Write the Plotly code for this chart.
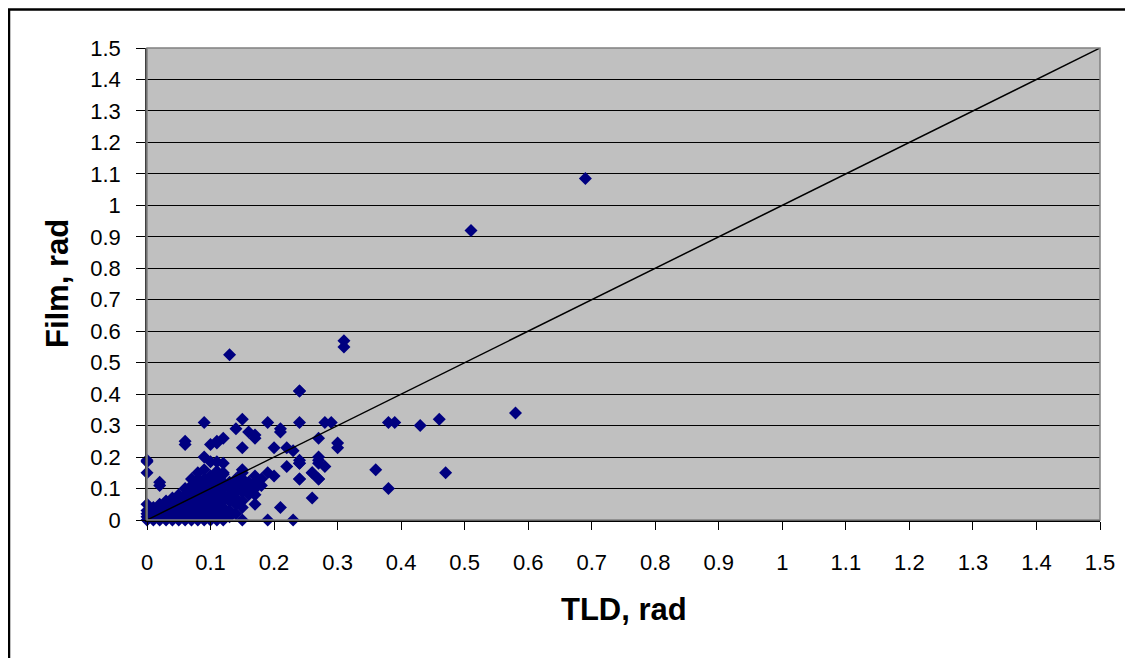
import plotly.graph_objects as go

# TLD vs film dose, rad
tld_rad = [
    0.69, 0.51, 0.58, 0.46, 0.43, 0.38, 0.39, 0.36, 0.47, 0.38,
    0.31, 0.31, 0.24, 0.28, 0.29, 0.27, 0.30, 0.30, 0.27, 0.28,
    0.26, 0.27, 0.26, 0.24, 0.24, 0.24, 0.24,
    0.13, 0.24, 0.09, 0.14, 0.15, 0.19, 0.21, 0.17, 0.11, 0.12, 0.06,
    0.17, 0.15, 0.20, 0.22, 0.23, 0.21, 0.16, 0.24, 0.22, 0.27, 0.27,
    0.19, 0.20, 0.24, 0.27, 0.26, 0.15, 0.15, 0.17, 0.15, 0.16, 0.17,
    0.14, 0.15, 0.19, 0.23, 0.15, 0.21,
    0.06, 0.11, 0.10, 0.00, 0.00, 0.00, 0.02, 0.02,
    0.09, 0.10, 0.11, 0.12, 0.09, 0.11, 0.12, 0.08, 0.10,
    0.00, 0.00, 0.00, 0.00, 0.00,
    0.01, 0.01, 0.01, 0.01,
    0.02, 0.02, 0.02, 0.02,
    0.03, 0.03, 0.03, 0.03, 0.03,
    0.04, 0.04, 0.04, 0.04, 0.04,
    0.05, 0.05, 0.05, 0.05, 0.05, 0.05,
    0.06, 0.06, 0.06, 0.06, 0.06, 0.06,
    0.07, 0.07, 0.07, 0.07, 0.07, 0.07, 0.07, 0.07,
    0.08, 0.08, 0.08, 0.08, 0.08, 0.08, 0.08, 0.08,
    0.09, 0.09, 0.09, 0.09, 0.09, 0.09, 0.09, 0.09,
    0.10, 0.10, 0.10, 0.10, 0.10, 0.10, 0.10, 0.10,
    0.11, 0.11, 0.11, 0.11, 0.11, 0.11, 0.11, 0.11,
    0.12, 0.12, 0.12, 0.12, 0.12, 0.12, 0.12, 0.12,
    0.13, 0.13, 0.13, 0.13, 0.13, 0.13,
    0.14, 0.14, 0.14, 0.14, 0.14, 0.14,
    0.15, 0.15, 0.15, 0.15,
    0.16, 0.16, 0.16,
    0.17, 0.17, 0.17,
    0.18, 0.18,
]
film_rad = [
    1.085, 0.92, 0.34, 0.32, 0.30, 0.31, 0.31, 0.16, 0.15, 0.10,
    0.57, 0.55, 0.41, 0.31, 0.31, 0.26, 0.245, 0.23, 0.20, 0.17,
    0.15, 0.13, 0.07, 0.31, 0.18, 0.13, 0.19,
    0.525, 0.41, 0.31, 0.29, 0.32, 0.31, 0.29, 0.27, 0.25, 0.26, 0.25,
    0.26, 0.23, 0.23, 0.23, 0.22, 0.28, 0.28, 0.18, 0.17, 0.19, 0.18,
    0.15, 0.14, 0.13, 0.13, 0.15, 0.15, 0.16, 0.14, 0.13, 0.095, 0.08,
    0.065, 0.00, 0.00, 0.00, 0.04, 0.04,
    0.24, 0.245, 0.24, 0.185, 0.15, 0.19, 0.12, 0.11,
    0.20, 0.185, 0.185, 0.18, 0.16, 0.155, 0.145, 0.13, 0.13,
    0.00, 0.01, 0.02, 0.03, 0.05,
    0.00, 0.01, 0.02, 0.04,
    0.00, 0.02, 0.03, 0.05,
    0.00, 0.01, 0.03, 0.04, 0.06,
    0.00, 0.02, 0.04, 0.05, 0.07,
    0.00, 0.01, 0.03, 0.05, 0.06, 0.08,
    0.00, 0.02, 0.04, 0.06, 0.08, 0.10,
    0.00, 0.01, 0.03, 0.05, 0.07, 0.09, 0.11, 0.13,
    0.00, 0.02, 0.04, 0.06, 0.08, 0.10, 0.12, 0.15,
    0.00, 0.01, 0.03, 0.05, 0.07, 0.09, 0.11, 0.13,
    0.00, 0.02, 0.04, 0.06, 0.08, 0.10, 0.12, 0.14,
    0.00, 0.01, 0.03, 0.05, 0.07, 0.09, 0.11, 0.13,
    0.00, 0.02, 0.04, 0.06, 0.08, 0.10, 0.12, 0.15,
    0.01, 0.03, 0.06, 0.08, 0.10, 0.12,
    0.02, 0.05, 0.07, 0.09, 0.11, 0.13,
    0.06, 0.09, 0.11, 0.13,
    0.08, 0.11, 0.12,
    0.05, 0.10, 0.12,
    0.11, 0.13,
]

# line of identity
ident_x = [0, 1.5]
ident_y = [0, 1.5]

tick_vals = [round(i * 0.1, 1) for i in range(16)]
tick_text = ["0", "0.1", "0.2", "0.3", "0.4", "0.5", "0.6", "0.7", "0.8",
             "0.9", "1", "1.1", "1.2", "1.3", "1.4", "1.5"]

FONT = "Liberation Sans, Arial, sans-serif"

fig = go.Figure()
fig.add_trace(go.Scatter(
    x=tld_rad, y=film_rad, mode="markers",
    marker=dict(symbol="diamond", size=10, color="#000080"),
    cliponaxis=False, showlegend=False,
))
fig.add_trace(go.Scatter(
    x=ident_x, y=ident_y, mode="lines",
    line=dict(color="black", width=1.5),
    showlegend=False,
))

fig.update_layout(
    width=1133, height=658,
    # page body adds ~8px offset, margins compensate
    margin=dict(l=139, r=41, t=40, b=146),
    paper_bgcolor="white",
    plot_bgcolor="#C0C0C0",
    font=dict(family=FONT, color="black", size=22),
    shapes=[
        # outer chart frame
        dict(type="rect", xref="paper", yref="paper",
             x0=-0.1448, x1=1.06, y0=-0.40, y1=1.0815,
             line=dict(color="black", width=2.5), layer="below"),
        # plot area border
        dict(type="rect", xref="paper", yref="paper",
             x0=0, x1=1, y0=0, y1=1,
             line=dict(color="#808080", width=1.5), layer="above"),
    ],
    annotations=[
        dict(text="<b>TLD, rad</b>", xref="paper", yref="paper",
             x=0.5, y=-0.1886, xanchor="center", yanchor="middle",
             showarrow=False, font=dict(size=31)),
        dict(text="<b>Film, rad</b>", xref="paper", yref="paper",
             x=-0.0944, y=0.5, xanchor="center", yanchor="middle",
             textangle=-90, showarrow=False, font=dict(size=31)),
    ],
)
fig.update_xaxes(
    range=[0, 1.5], tickvals=tick_vals, ticktext=tick_text,
    showgrid=False, zeroline=False,
    showline=True, linecolor="black", linewidth=1.5,
    ticks="outside", ticklen=8, tickcolor="black",
    ticklabelstandoff=14,
    tickfont=dict(size=22),
)
fig.update_yaxes(
    range=[0, 1.5], tickvals=tick_vals, ticktext=tick_text,
    showgrid=True, gridcolor="black", gridwidth=1,
    zeroline=False,
    showline=True, linecolor="#404040", linewidth=1.5,
    ticks="outside", ticklen=9, tickcolor="black",
    ticklabelstandoff=11,
    tickfont=dict(size=22),
)

fig.write_html("out.html")
